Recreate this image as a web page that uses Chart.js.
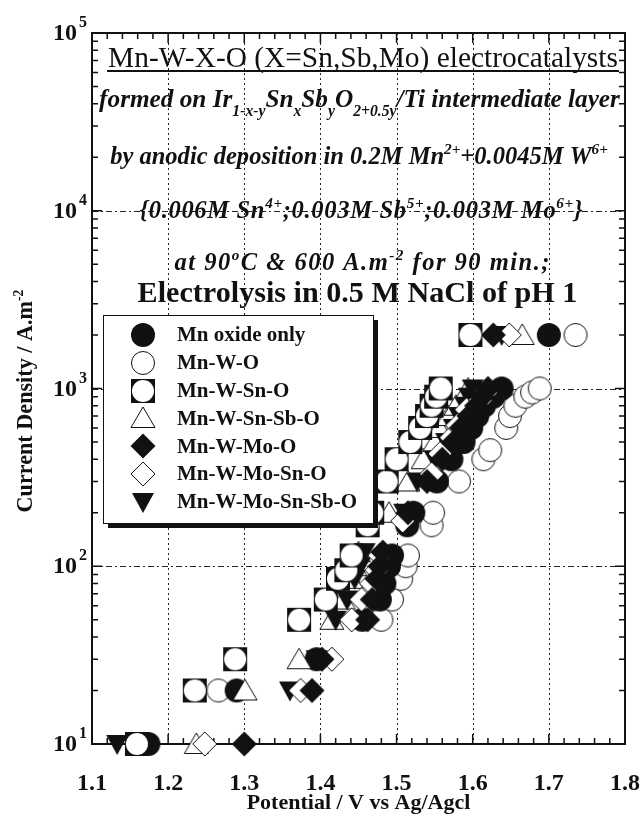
<!DOCTYPE html>
<html><head><meta charset="utf-8">
<script src="https://cdn.jsdelivr.net/npm/chart.js@4.4.1/dist/chart.umd.min.js"></script>
<style>html,body{margin:0;padding:0;background:#fff;}canvas{display:block;}</style>
</head><body>
<canvas id="c" width="642" height="814"></canvas>
<script>
// ---------- data ----------
const seriesNames = ['Mn oxide only','Mn-W-O','Mn-W-Sn-O','Mn-W-Sn-Sb-O','Mn-W-Mo-O','Mn-W-Mo-Sn-O','Mn-W-Mo-Sn-Sb-O'];

const mnOxideV = [1.174,1.290,1.395,1.455,1.478,1.484,1.490,1.494,1.514,1.522,1.553,1.572,1.588,1.598,1.606,1.615,1.627,1.638,1.700];
const mnOxideI = [10,20,30,50,65,80,100,115,170,200,300,400,500,600,700,800,900,1000,2000];

const mnWOV = [1.266,1.480,1.494,1.506,1.512,1.515,1.546,1.548,1.582,1.614,1.623,1.644,1.649,1.656,1.669,1.678,1.688,1.735];
const mnWOI = [20,50,65,85,100,115,170,200,300,400,450,600,700,800,900,950,1000,2000];

const mnWSnOV = [1.159,1.235,1.288,1.372,1.407,1.423,1.434,1.441,1.462,1.468,1.487,1.500,1.518,1.531,1.540,1.546,1.552,1.558,1.597];
const mnWSnOI = [10,20,30,50,65,85,95,115,170,200,300,400,500,600,700,800,900,1000,2000];

const mnWSnSbOV = [1.237,1.301,1.372,1.415,1.430,1.440,1.445,1.450,1.490,1.515,1.535,1.550,1.556,1.568,1.578,1.594,1.665];
const mnWSnSbOI = [10,20,30,50,65,85,100,120,200,300,400,500,600,700,800,1000,2000];

const mnWMoOV = [1.300,1.389,1.402,1.462,1.468,1.474,1.478,1.482,1.515,1.540,1.560,1.575,1.585,1.595,1.605,1.612,1.620,1.627];
const mnWMoOI = [10,20,30,50,65,85,100,120,200,300,400,500,600,700,800,900,1000,2000];

const mnWMoSnOV = [1.248,1.374,1.415,1.441,1.454,1.467,1.474,1.478,1.508,1.546,1.557,1.572,1.580,1.592,1.610,1.617,1.648];
const mnWMoSnOI = [10,20,30,50,65,80,95,115,180,330,430,530,620,760,860,950,2000];

const mnWMoSnSbOV = [1.133,1.360,1.395,1.420,1.435,1.445,1.452,1.458,1.510,1.527,1.550,1.565,1.575,1.582,1.590,1.595,1.600,1.638];
const mnWMoSnSbOI = [10,20,30,50,65,85,100,120,200,300,400,500,600,700,800,900,1000,2000];

const xTickValues = [1.1,1.2,1.3,1.4,1.5,1.6,1.7,1.8];
const xTickLabels = ['1.1','1.2','1.3','1.4','1.5','1.6','1.7','1.8'];
const yTickValues = [10,100,1000,10000,100000];
const yTickBase = '10';
const yTickExponents = ['1','2','3','4','5'];

const xTitle = 'Potential / V vs Ag/Agcl';
const yTitle = 'Current Density / A.m^{-2}';
const noteLines = [
  'Mn-W-X-O (X=Sn,Sb,Mo) electrocatalysts',
  'formed on Ir_{1-x-y}Sn_{x}Sb_{y}O_{2+0.5y}/Ti intermediate layer',
  'by anodic deposition in 0.2M Mn^{2+}+0.0045M W^{6+}',
  '{0.006M Sn^{4+};0.003M Sb^{5+};0.003M Mo^{6+}}',
  'at 90^{o}C & 600 A.m^{-2} for 90 min.;',
  'Electrolysis in 0.5 M NaCl of pH 1'
];

// ---------- markers ----------
const INK = '#111';
function makeMarker(kind){
  const c = document.createElement('canvas'); c.width = 28; c.height = 28;
  const g = c.getContext('2d'); const m = 14;
  g.lineWidth = 1; g.strokeStyle = INK; g.fillStyle = INK;
  const poly = (pts, fill, stroke) => { g.beginPath(); pts.forEach((p,i)=> i?g.lineTo(p[0],p[1]):g.moveTo(p[0],p[1])); g.closePath(); if(fill){g.fillStyle=fill; g.fill();} if(stroke){g.strokeStyle=stroke; g.stroke();} };
  switch(kind){
    case 'filledCircle': g.beginPath(); g.arc(m,m,12,0,2*Math.PI); g.fill(); break;
    case 'openCircle': g.beginPath(); g.arc(m,m,11.5,0,2*Math.PI); g.fillStyle='#fff'; g.fill(); g.stroke(); break;
    case 'squareCircle': g.fillRect(m-12,m-12,24,24); g.beginPath(); g.arc(m,m,11,0,2*Math.PI); g.fillStyle='#fff'; g.fill(); break;
    case 'openTriangle': poly([[m,m-11],[m+12,m+9.5],[m-12,m+9.5]],'#fff',INK); break;
    case 'filledDiamond': poly([[m,m-12.5],[m+12.5,m],[m,m+12.5],[m-12.5,m]],INK,null); break;
    case 'openDiamond': poly([[m,m-12],[m+12,m],[m,m+12],[m-12,m]],'#fff',INK); break;
    case 'filledTriDown': poly([[m-11,m-9],[m+11,m-9],[m,m+11]],INK,null); break;
  }
  return c;
}
const markerKinds = ['filledCircle','openCircle','squareCircle','openTriangle','filledDiamond','openDiamond','filledTriDown'];
const markers = markerKinds.map(makeMarker);
const drawOrder = [6,7,1,5,2,3,4]; // lower = on top
const seriesV = [mnOxideV,mnWOV,mnWSnOV,mnWSnSbOV,mnWMoOV,mnWMoSnOV,mnWMoSnSbOV];
const seriesI = [mnOxideI,mnWOI,mnWSnOI,mnWSnSbOI,mnWMoOI,mnWMoSnOI,mnWMoSnSbOI];

const datasets = seriesNames.map((n,k)=>({
  label:n,
  data: seriesV[k].map((v,i)=>({x:v,y:seriesI[k][i]})),
  pointStyle: markers[k], pointRadius: 12, pointHoverRadius: 12,
  showLine:false, clip:false, order: drawOrder[k]
}));

// ---------- rich text ----------
const FAM = '"Liberation Serif", "Times New Roman", serif';
function parseRich(s){
  const out=[]; let i=0, buf='';
  while(i<s.length){
    if((s[i]==='_'||s[i]==='^') && s[i+1]==='{'){
      if(buf){out.push({t:buf,v:0}); buf='';}
      const j=s.indexOf('}',i+2);
      out.push({t:s.slice(i+2,j), v: s[i]==='_'?'sub':'sup'}); i=j+1;
    } else { buf+=s[i]; i++; }
  }
  if(buf) out.push({t:buf,v:0});
  return out;
}
function fontStr(style,weight,size){ return `${style} ${weight} ${size}px ${FAM}`; }
function richWidth(ctx,segs,size,style,weight){
  let w=0; segs.forEach(sg=>{ ctx.font=fontStr(style,weight, sg.v?size*0.62:size); w+=ctx.measureText(sg.t).width; }); return w;
}
function fitSize(ctx,str,size,style,weight,target){
  return size*target/richWidth(ctx,parseRich(str),size,style,weight);
}
function drawRich(ctx,str,cx,baseY,o){
  const segs=parseRich(str);
  let size=o.size;
  if(o.fit){ size = size*o.fit/richWidth(ctx,segs,size,o.style,o.weight); }
  const natural=richWidth(ctx,segs,size,o.style,o.weight);
  let extra=0, w=natural;
  const nChars = segs.reduce((s,sg)=>s+sg.t.length,0);
  if(o.spread && o.spread>natural){ extra=(o.spread-natural)/(nChars-1); w=o.spread; }
  let x=cx-w/2;
  ctx.textAlign='left'; ctx.textBaseline='alphabetic'; ctx.fillStyle=INK;
  segs.forEach(sg=>{
    const fs = sg.v?size*0.62:size;
    ctx.font=fontStr(o.style,o.weight,fs);
    const dy = sg.v==='sub'? size*0.36 : sg.v==='sup' ? -size*0.42 : 0;
    if(extra){
      for(const ch of sg.t){ ctx.fillText(ch,x,baseY+dy); x+=ctx.measureText(ch).width+extra; }
    } else {
      ctx.fillText(sg.t,x,baseY+dy); x+=ctx.measureText(sg.t).width;
    }
  });
  return {left:cx-w/2,right:cx+w/2,size};
}

// ---------- decoration plugin ----------
const decor = {
  id:'decor',
  beforeDatasetsDraw(chart){
    const {ctx, chartArea:a, scales:{x,y}} = chart;
    ctx.save();
    // grid lines
    ctx.strokeStyle='#222'; ctx.lineWidth=1;
    ctx.setLineDash([2,3]);
    xTickValues.slice(1,-1).forEach(v=>{ const px=Math.round(x.getPixelForValue(v))+0.5; ctx.beginPath(); ctx.moveTo(px,a.top); ctx.lineTo(px,a.bottom); ctx.stroke(); });
    ctx.setLineDash([6,3,2,3]);
    yTickValues.slice(1,-1).forEach(v=>{ const py=Math.round(y.getPixelForValue(v))+0.5; ctx.beginPath(); ctx.moveTo(a.left,py); ctx.lineTo(a.right,py); ctx.stroke(); });
    ctx.setLineDash([]);
    // ticks (inward)
    ctx.strokeStyle=INK; ctx.lineWidth=1.5;
    const n = Math.round((xTickValues[xTickValues.length-1]-xTickValues[0])/0.02);
    for(let k=0;k<=n;k++){
      const v = xTickValues[0]+k*0.02; const px=x.getPixelForValue(v); const len = k%5===0?10:6;
      ctx.beginPath(); ctx.moveTo(px,a.bottom); ctx.lineTo(px,a.bottom-len); ctx.moveTo(px,a.top); ctx.lineTo(px,a.top+len); ctx.stroke();
    }
    for(let d=0; d<yTickValues.length; d++){
      for(let m=1;m<=9;m++){
        if(d===yTickValues.length-1 && m>1) break;
        const v=yTickValues[d]*m; const py=y.getPixelForValue(v); const len = m===1?10:6;
        ctx.beginPath(); ctx.moveTo(a.left,py); ctx.lineTo(a.left+len,py); ctx.moveTo(a.right,py); ctx.lineTo(a.right-len,py); ctx.stroke();
      }
    }
    // border
    ctx.lineWidth=2; ctx.strokeRect(a.left,a.top,a.right-a.left,a.bottom-a.top);
    // annotation text
    const L1 = drawRich(ctx,noteLines[0],363,67,{size:28,style:'normal',weight:'normal',fit:510});
    ctx.fillStyle=INK; ctx.fillRect(L1.left-1,70,L1.right-L1.left+2,2);
    const ital = fitSize(ctx,noteLines[2],22,'italic','bold',498);
    drawRich(ctx,noteLines[1],359.5,107,{size:22,style:'italic',weight:'bold',fit:521});
    drawRich(ctx,noteLines[2],359,164,{size:ital,style:'italic',weight:'bold'});
    drawRich(ctx,noteLines[3],361,218,{size:ital,style:'italic',weight:'bold',spread:443});
    drawRich(ctx,noteLines[4],362,270,{size:ital,style:'italic',weight:'bold',spread:375});
    drawRich(ctx,noteLines[5],357.5,302,{size:28,style:'normal',weight:'bold',fit:440});
    // y tick labels
    yTickValues.forEach((v,i)=>{
      const py=y.getPixelForValue(v);
      ctx.fillStyle=INK; ctx.textBaseline='middle'; ctx.textAlign='right';
      ctx.font=fontStr('normal','bold',24); ctx.fillText(yTickBase,77,py+1);
      ctx.textAlign='left'; ctx.textBaseline='alphabetic';
      ctx.font=fontStr('normal','bold',16); ctx.fillText(yTickExponents[i],79,py-6);
    });
    // axis titles
    drawRich(ctx,xTitle,358.5,809,{size:22,style:'normal',weight:'bold'});
    ctx.save(); ctx.translate(25,401); ctx.rotate(-Math.PI/2);
    drawRich(ctx,yTitle,0,7,{size:22,style:'normal',weight:'bold',fit:223});
    ctx.restore();
    ctx.restore();
  },
  afterDatasetsDraw(chart){
    const ctx=chart.ctx; ctx.save();
    const L=103,T=315,W=270,H=208;
    ctx.fillStyle=INK; ctx.fillRect(L+5,T+5,W,H);
    ctx.fillStyle='#fff'; ctx.fillRect(L,T,W,H);
    ctx.strokeStyle=INK; ctx.lineWidth=1; ctx.strokeRect(L+0.5,T+0.5,W,H);
    ctx.font=fontStr('normal','bold',21); ctx.textBaseline='middle'; ctx.textAlign='left';
    seriesNames.forEach((nm,i)=>{
      const cy=335+i*27.8;
      ctx.drawImage(markers[i],143-14,Math.round(cy)-14);
      ctx.fillStyle=INK; ctx.fillText(nm,177,cy+1);
    });
    ctx.restore();
  }
};

new Chart(document.getElementById('c'),{
  type:'scatter',
  data:{datasets},
  options:{
    responsive:false, animation:false, devicePixelRatio:1,
    layout:{autoPadding:false,padding:{left:92,right:17,top:33,bottom:0}},
    plugins:{legend:{display:false},tooltip:{enabled:false}},
    scales:{
      x:{type:'linear',min:1.1,max:1.8,position:'bottom',
        afterBuildTicks:s=>{ s.ticks = xTickValues.map(v=>({value:v})); },
        ticks:{callback:(v,i)=>xTickLabels[i],font:{family:FAM,size:24,weight:'bold'},color:INK,padding:17,maxRotation:0,autoSkip:false},
        grid:{display:false},border:{display:false},
        afterFit:s=>{ s.height=70; s.paddingLeft=0; s.paddingRight=0; }},
      y:{type:'logarithmic',min:10,max:100000,display:false,afterFit:s=>{ s.width=0; }}
    }
  },
  plugins:[decor]
});
</script>
</body></html>
